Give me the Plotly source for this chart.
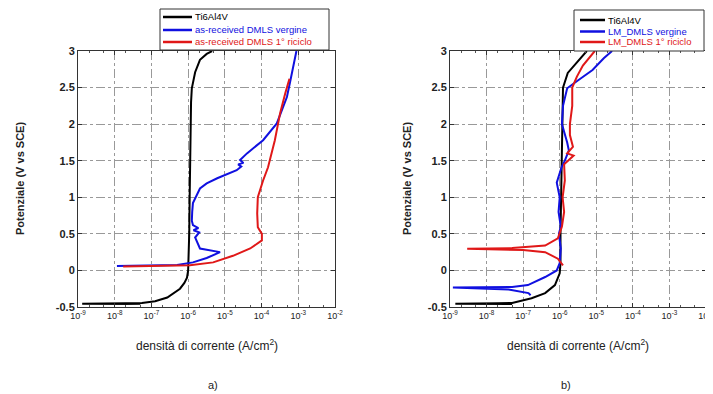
import plotly.graph_objects as go

# ---------------- data (current density A/cm2, potential V vs SCE) ----------------
# Panel a)
a_ti_i = [5.0e-8, 1.3e-9, 2.0e-8, 5.5e-8, 1.26e-7, 2.7e-7, 4.5e-7, 6.0e-7, 7.9e-7, 9.3e-7,
          1.0e-6, 1.02e-6, 1.07e-6, 1.1e-6, 1.12e-6, 1.15e-6, 1.2e-6, 1.26e-6, 1.35e-6,
          1.55e-6, 2.1e-6, 3.2e-6, 4.5e-6]
a_ti_e = [-0.46, -0.455, -0.45, -0.445, -0.42, -0.37, -0.30, -0.25, -0.17, -0.10,
          0.0, 0.1, 0.5, 1.0, 1.5, 2.0, 2.3, 2.49, 2.56, 2.71, 2.88, 2.96, 3.0]

a_verg_i = [1.15e-8, 1.0e-7, 3.2e-7, 5.0e-7, 1.35e-6, 3.2e-6, 7.4e-6, 4.8e-6, 2.1e-6, 1.55e-6,
            2.0e-6, 1.4e-6, 1.9e-6, 1.35e-6, 1.26e-6, 1.29e-6, 1.35e-6, 2.1e-6, 3.2e-6,
            6.2e-6, 2.1e-5, 2.8e-5, 2.3e-5, 3.2e-5, 2.6e-5, 4.0e-5, 1.1e-4, 2.6e-4, 4.9e-4,
            6.0e-4, 6.8e-4, 8.9e-4]
a_verg_e = [0.06, 0.065, 0.07, 0.075, 0.11, 0.17, 0.25, 0.27, 0.30, 0.45,
            0.52, 0.55, 0.58, 0.62, 0.68, 0.80, 0.92, 1.12, 1.19,
            1.26, 1.37, 1.42, 1.45, 1.47, 1.51, 1.60, 1.78, 2.01, 2.37,
            2.58, 2.70, 3.0]

a_ric_i = [1.7e-8, 1.0e-7, 5.0e-7, 1.12e-6, 4.8e-6, 1.66e-5, 4.9e-5, 1.02e-4, 1.02e-4,
           7.9e-5, 7.6e-5, 7.9e-5, 1.1e-4, 1.5e-4, 2.3e-4, 3.2e-4, 4.4e-4, 5.75e-4]
a_ric_e = [0.055, 0.058, 0.062, 0.07, 0.11, 0.20, 0.30, 0.41, 0.50,
           0.59, 0.78, 1.0, 1.23, 1.41, 1.78, 2.15, 2.42, 2.62]

# Panel b)
b_ti_i = [5.0e-8, 1.4e-9, 2.0e-8, 5.0e-8, 1.7e-7, 4.0e-7, 7.4e-7, 1.0e-6, 1.05e-6, 1.05e-6,
          1.1e-6, 1.15e-6, 1.2e-6, 1.23e-6, 1.66e-6, 2.95e-6, 4.9e-6, 5.5e-6]
b_ti_e = [-0.46, -0.455, -0.45, -0.445, -0.38, -0.31, -0.20, -0.04, 0.1, 0.5,
          1.0, 1.5, 2.0, 2.5, 2.7, 2.85, 2.97, 3.0]

b_verg_i = [1.6e-7, 1.4e-7, 4.0e-8, 1.2e-9, 5.0e-8, 1.35e-7, 4.0e-7, 8.3e-7, 1.0e-6, 1.07e-6,
            9.5e-7, 1.07e-6, 9.3e-7, 1.0e-6, 8.3e-7, 1.12e-6, 1.38e-6, 1.78e-6, 1.6e-6,
            1.15e-6, 1.23e-6, 1.6e-6, 3.2e-6, 7.9e-6, 1.6e-5, 2.7e-5]
b_verg_e = [-0.34, -0.31, -0.26, -0.235, -0.225, -0.20, -0.09, 0.0, 0.1, 0.3,
            0.5, 0.6, 0.8, 1.0, 1.2, 1.41, 1.5, 1.64, 1.75,
            2.0, 2.25, 2.49, 2.6, 2.74, 2.9, 3.0]

b_ric_i = [1.23e-6, 8.9e-7, 4.0e-7, 1.0e-7, 2.95e-9, 5.0e-8, 4.0e-7, 8.9e-7, 1.15e-6, 1.32e-6,
           1.2e-6, 1.38e-6, 1.32e-6, 2.4e-6, 1.6e-6, 2.3e-6, 1.9e-6, 1.9e-6, 2.2e-6, 2.2e-6,
           2.95e-6, 4.3e-6, 9.1e-6]
b_ric_e = [0.07, 0.16, 0.25, 0.28, 0.295, 0.305, 0.34, 0.44, 0.6, 0.8,
           1.0, 1.23, 1.45, 1.57, 1.60, 1.69, 1.85, 2.0, 2.25, 2.5,
           2.65, 2.8, 3.0]

x_tickvals = [1e-9, 1e-8, 1e-7, 1e-6, 1e-5, 1e-4, 1e-3, 1e-2]
x_ticktext = ["10<sup>-9</sup>", "10<sup>-8</sup>", "10<sup>-7</sup>", "10<sup>-6</sup>",
              "10<sup>-5</sup>", "10<sup>-4</sup>", "10<sup>-3</sup>", "10<sup>-2</sup>"]
y_tickvals = [-0.5, 0, 0.5, 1, 1.5, 2, 2.5, 3]
y_ticktext = ["-0.5", "0", "0.5", "1", "1.5", "2", "2.5", "3"]

names_a = ["Ti6Al4V", "as-received DMLS vergine", "as-received DMLS 1° riciclo"]
names_b = ["Ti6Al4V", "LM_DMLS vergine", "LM_DMLS 1° riciclo"]
y_title = "Potenziale (V vs SCE)"
x_title = "densità di corrente (A/cm<sup>2</sup>)"
panel_labels = ["a)", "b)"]

BLACK = "#000000"
BLUE = "#1010e0"
RED = "#e01818"
COLORS = [BLACK, BLUE, RED]
FONT = "Arial, Liberation Sans, sans-serif"

# page body has an 8px margin: figure sits at (8, 8) in the window
OX, OY = 8, 8
W, H = 713 - OX, 394 - OY

fig = go.Figure()

def add(x, y, color, xa, ya):
    fig.add_trace(go.Scatter(x=x, y=y, mode="lines", xaxis=xa, yaxis=ya,
                             line=dict(color=color, width=2), showlegend=False))

add(a_ti_i, a_ti_e, BLACK, "x", "y")
add(a_verg_i, a_verg_e, BLUE, "x", "y")
add(a_ric_i, a_ric_e, RED, "x", "y")
add(b_ti_i, b_ti_e, BLACK, "x2", "y2")
add(b_verg_i, b_verg_e, BLUE, "x2", "y2")
add(b_ric_i, b_ric_e, RED, "x2", "y2")

def px(x):
    return (x - OX) / W

def py(y):
    return (H - (y - OY)) / H

ydom = [py(307), py(51)]

def xaxis(dom, anchor):
    return dict(
        type="log", domain=dom, range=[-9, -2], anchor=anchor, automargin=False,
        tickvals=x_tickvals, ticktext=x_ticktext, ticklabeloverflow="allow",
        tickfont=dict(family=FONT, size=9, color="#222"),
        ticks="inside", ticklen=4, tickcolor="#333",
        minor=dict(ticks="inside", ticklen=2, tickcolor="#555", showgrid=False),
        showline=True, linecolor="#333", linewidth=1, mirror="ticks",
        showgrid=True, gridcolor="#999", griddash="dashdot", gridwidth=1,
        zeroline=False,
    )

def yaxis(anchor):
    return dict(
        domain=ydom, range=[-0.5, 3], anchor=anchor, automargin=False,
        tickvals=y_tickvals, ticktext=y_ticktext,
        tickfont=dict(family=FONT, size=11, color="#222", weight="bold"),
        ticks="inside", ticklen=4, tickcolor="#333",
        showline=True, linecolor="#333", linewidth=1, mirror="ticks",
        showgrid=True, gridcolor="#999", griddash="dashdot", gridwidth=1,
        zeroline=False,
    )

shapes = []
annotations = []

def legend(x0, x1, y0, y1, names, sx0, sx1, tx, ys):
    shapes.append(dict(type="rect", xref="paper", yref="paper",
                       x0=px(x0), x1=px(x1), y0=py(y1), y1=py(y0),
                       line=dict(color="#333", width=1), fillcolor="white", layer="above"))
    for name, c, yy in zip(names, COLORS, ys):
        shapes.append(dict(type="line", xref="paper", yref="paper",
                           x0=px(sx0), x1=px(sx1), y0=py(yy), y1=py(yy),
                           line=dict(color=c, width=2.5), layer="above"))
        annotations.append(dict(text=name, x=px(tx), y=py(yy), xref="paper", yref="paper",
                                xanchor="left", yanchor="middle", showarrow=False,
                                font=dict(family=FONT, size=9.5, color=c)))

legend(160, 329, 9, 50, names_a, 163, 192, 193, [17, 30, 42])
legend(574, 704, 10, 51, names_b, 580, 605, 606, [20, 31.5, 42])

for cx, ycx, cxx in [(20, 179, 207), (407, 179, 578)]:
    annotations.append(dict(text=f"<b>{y_title}</b>", x=px(cx), y=py(ycx),
                            xref="paper", yref="paper", textangle=-90, showarrow=False,
                            xanchor="center", yanchor="middle",
                            font=dict(family=FONT, size=11, color="#222")))
    annotations.append(dict(text=x_title, x=px(cxx), y=py(345),
                            xref="paper", yref="paper", showarrow=False,
                            xanchor="center", yanchor="middle",
                            font=dict(family=FONT, size=12, color="#222")))

for lab, cx in zip(panel_labels, [213, 566]):
    annotations.append(dict(text=lab, x=px(cx), y=py(385), xref="paper", yref="paper",
                            showarrow=False, xanchor="center", yanchor="middle",
                            font=dict(family=FONT, size=11, color="#222")))

fig.update_layout(
    width=W, height=H,
    margin=dict(l=0, r=0, t=0, b=0),
    paper_bgcolor="white", plot_bgcolor="white",
    xaxis=xaxis([px(78), px(335)], "y"),
    yaxis=yaxis("x"),
    xaxis2=xaxis([px(450), px(706)], "y2"),
    yaxis2=yaxis("x2"),
    shapes=shapes,
    annotations=annotations,
    showlegend=False,
)

fig.write_html("out.html")
